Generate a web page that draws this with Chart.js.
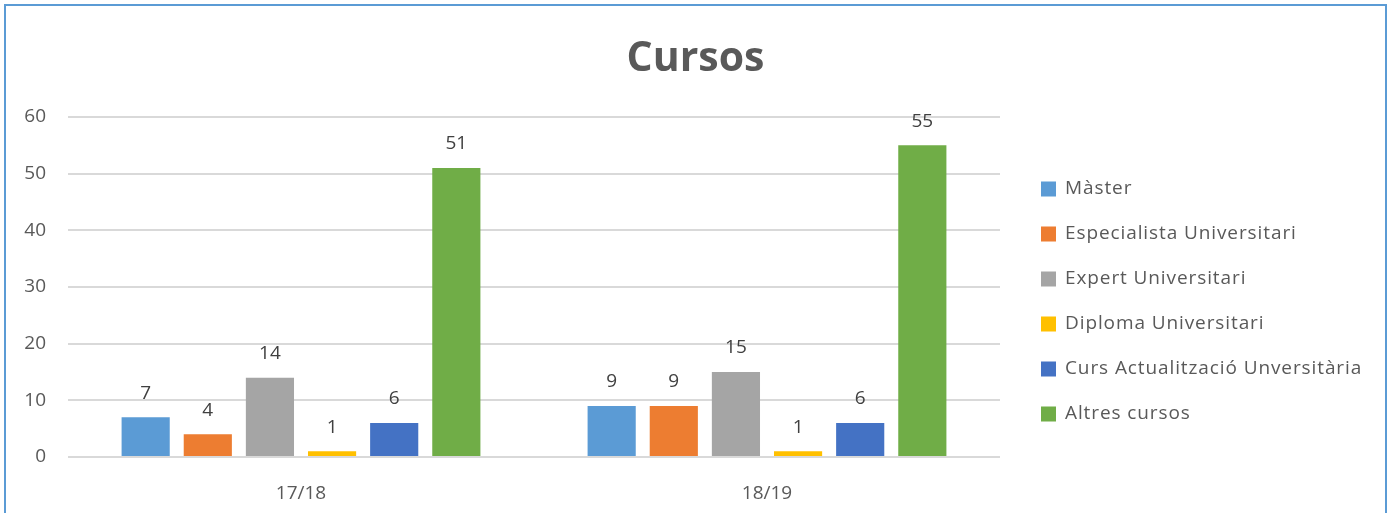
<!DOCTYPE html>
<html>
<head>
<meta charset="utf-8">
<script src="https://cdn.jsdelivr.net/npm/chart.js@4/dist/chart.umd.min.js"></script>
<style>
  html, body { margin: 0; padding: 0; background: #fff; }
  #wrap { position: relative; width: 1391px; height: 513px; overflow: hidden; }
  #frame { position: absolute; left: 4px; top: 4px; width: 1379px; height: 530px; border: 2px solid #5b9bd5; pointer-events: none; }
</style>
</head>
<body>
<div id="wrap">
  <canvas id="cursosChart" width="1391" height="513"></canvas>
  <div id="frame"></div>
</div>
<script>
// data
const years = ['17/18', '18/19'];
const series = ['Màster', 'Especialista Universitari', 'Expert Universitari', 'Diploma Universitari', 'Curs Actualització Unversitària', 'Altres cursos'];
const master = [7, 9];
const especialista = [4, 9];
const expert = [14, 15];
const diploma = [1, 1];
const actualitzacio = [6, 6];
const altres = [51, 55];
const yTicks = [0, 10, 20, 30, 40, 50, 60];
const title = 'Cursos';

const colors = ['#5b9bd5', '#ed7d31', '#a5a5a5', '#ffc000', '#4472c4', '#70ad47'];
const values = [master, especialista, expert, diploma, actualitzacio, altres];

const FONT = 'Open Sans';
const TEXT = '#595959';

// values above the bars
const barLabels = {
  id: 'barLabels',
  afterDatasetsDraw(chart) {
    const ctx = chart.ctx;
    ctx.save();
    ctx.font = '19px "' + FONT + '"';
    ctx.fillStyle = '#404040';
    ctx.textAlign = 'center';
    ctx.textBaseline = 'middle';
    chart.data.datasets.forEach((ds, i) => {
      chart.getDatasetMeta(i).data.forEach((bar, j) => {
        ctx.fillText(ds.data[j], bar.x, bar.y - 24);
      });
    });
    ctx.restore();
  }
};

// title centred on the whole frame, legend on the right
const sideLegend = {
  id: 'sideLegend',
  afterDraw(chart) {
    const ctx = chart.ctx;
    ctx.save();
    ctx.fillStyle = TEXT;
    ctx.font = 'bold 41px "' + FONT + '"';
    ctx.textAlign = 'center';
    ctx.textBaseline = 'middle';
    ctx.fillText(title, chart.width / 2, 59);

    const x0 = chart.chartArea.right + 41;
    const y0 = 189, step = 45;
    ctx.font = '19px "' + FONT + '"';
    ctx.letterSpacing = '0.9px';
    ctx.textAlign = 'left';
    chart.data.datasets.forEach((ds, i) => {
      const y = y0 + i * step;
      ctx.fillStyle = ds.backgroundColor;
      ctx.fillRect(x0, y - 7.5, 15, 15);
      ctx.fillStyle = TEXT;
      ctx.fillText(ds.label, x0 + 24, y);
    });
    ctx.restore();
  }
};

const ctx = document.getElementById('cursosChart').getContext('2d');
new Chart(ctx, {
  type: 'bar',
  data: {
    labels: years,
    datasets: series.map((name, i) => ({
      label: name,
      data: values[i],
      backgroundColor: colors[i],
      categoryPercentage: 0.8,
      barPercentage: 0.775
    }))
  },
  options: {
    responsive: false,
    animation: false,
    layout: { padding: { top: 117, left: 10, right: 391, bottom: 0 } },
    plugins: {
      title: { display: false },
      legend: { display: false },
      tooltip: { enabled: false }
    },
    scales: {
      x: {
        grid: { display: false },
        border: { display: false },
        afterFit(axis) { axis.height = 56; },
        ticks: { color: TEXT, font: { family: FONT, size: 19 }, padding: 17 }
      },
      y: {
        min: 0,
        max: 60,
        afterBuildTicks(axis) { axis.ticks = yTicks.map(v => ({ value: v })); },
        afterFit(axis) { axis.width = 58; },
        grid: { color: '#d9d9d9', lineWidth: 2, drawTicks: false },
        border: { display: false },
        ticks: { color: TEXT, font: { family: FONT, size: 19 }, padding: 22 }
      }
    }
  },
  plugins: [barLabels, sideLegend]
});
</script>
</body>
</html>
